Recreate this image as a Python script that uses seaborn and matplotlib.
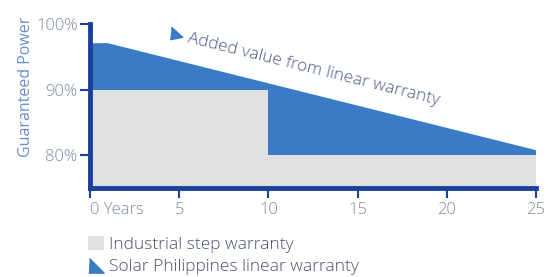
import numpy as np
import pandas as pd
import seaborn as sns
import matplotlib.pyplot as plt
from matplotlib.lines import Line2D
from matplotlib.patches import Patch

# linear warranty (blue) and step warranty (gray), power in %
linear_years = [0, 1, 25]
linear_power = [97.0, 97.0, 80.7]
step_years = [0, 10, 10, 25]
step_power = [90, 90, 80, 80]
xticks = [0, 5, 10, 15, 20, 25]
xtick_labels = ["0 Years", "5", "10", "15", "20", "25"]
yticks = [80, 90, 100]
ytick_labels = ["80%", "90%", "100%"]

blue = "#3b7bc6"
gray = "#e0e0e0"
spine = "#1b3f9c"
label_col = "#8089a8"

sns.set_style("white")
plt.rcParams["font.family"] = ["Open Sans", "DejaVu Sans"]
plt.rcParams["font.weight"] = "light"

fig = plt.figure(figsize=(5.6, 2.77), dpi=100)
ax = fig.add_axes([0.161, 0.321, 0.796, 0.592])

lin = pd.DataFrame({"year": linear_years, "power": linear_power})
step = pd.DataFrame({"year": step_years, "power": step_power})

ax.fill_between(lin["year"], 0, lin["power"], color=blue, lw=0, zorder=1)
ax.fill_between(step["year"], 0, step["power"], color=gray, lw=0, zorder=2)
sns.lineplot(data=lin, x="year", y="power", ax=ax, color=blue, lw=0.8, zorder=1)

ax.set_xlim(0, 25)
ax.set_ylim(75, 100)
ax.set_xticks(xticks)
ax.set_xticklabels(xtick_labels)
ax.get_xticklabels()[0].set_ha("left")
ax.set_yticks(yticks)
ax.set_yticklabels(ytick_labels)
ax.set_xlabel("")
ax.set_ylabel("Guaranteed Power", color="#6b8ccf", fontsize=11.5)
ax.yaxis.set_label_coords(-0.125, 0.62)

for s in ["top", "right"]:
    ax.spines[s].set_visible(False)
for s in ["left", "bottom"]:
    ax.spines[s].set_color(spine)
    ax.spines[s].set_linewidth(3.5)
    ax.spines[s].set_zorder(5)
ax.tick_params(axis="both", bottom=True, left=True, colors=spine,
               labelcolor=label_col, labelsize=12, length=7, width=1.5,
               direction="out")
ax.tick_params(axis="x", pad=3)
ax.tick_params(axis="y", pad=2)

tri = [(-0.8, 1), (1, -0.6), (-1, -1)]
ax.plot([4.8], [98.6], marker=tri, ms=9, color=blue, clip_on=False, zorder=6)
ax.text(5.5, 97.8, "Added value from linear warranty", rotation=-14,
        rotation_mode="anchor", ha="left", va="center", color="#4f5b8c",
        fontsize=12.5, fontstyle="normal")

handles = [Patch(facecolor=gray, edgecolor="none"),
           Line2D([], [], marker=[(-1, -1), (1, -1), (-0.9, 0.9)], ls="", ms=11, color=blue)]
fig.legend(handles, ["Industrial step warranty", "Solar Philippines linear warranty"],
           loc="lower left", bbox_to_anchor=(0.13, -0.05), frameon=False,
           fontsize=12.5, handlelength=0.9, handleheight=0.9, handletextpad=0.3,
           labelspacing=0.3, labelcolor="#4a5070")

fig.savefig("out.png", dpi=100)
